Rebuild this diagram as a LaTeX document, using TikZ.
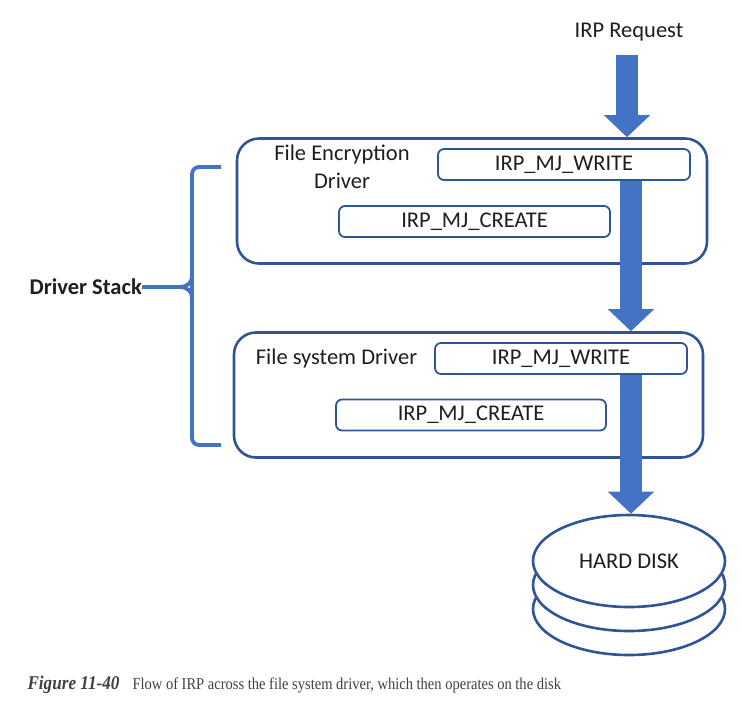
\documentclass[tikz,border=0pt]{standalone}
\usepackage{fontspec}
\setmainfont{Carlito}
\newfontfamily\capfont[FakeStretch=0.88]{Liberation Serif}
\usetikzlibrary{arrows.meta,shapes.geometric}
\definecolor{boxblue}{RGB}{47,85,151}
\definecolor{flowblue}{RGB}{68,114,196}
\definecolor{ink}{RGB}{30,30,30}
\begin{document}
\begin{tikzpicture}[x=1pt, y=-1pt, every node/.style={font=\fontsize{22.5}{28}\selectfont, text=ink},
layer/.style={draw=boxblue, line width=2.6pt, rounded corners=22pt, minimum width=#1, minimum height=125pt, inner sep=0pt},
irp/.style={draw=boxblue, line width=1.8pt, rounded corners=6pt, minimum width=#1, minimum height=31pt, inner sep=0pt},
platter/.style={ellipse, draw=boxblue, fill=white, line width=2.6pt, minimum width=192pt, minimum height=92pt, inner sep=0pt},
flow/.style={draw=flowblue, line width=22pt, -{Triangle[width=45pt, length=22pt, fill=flowblue]}},
brace/.style={draw=flowblue, line width=3.8pt, rounded corners=7pt},
caption/.style={anchor=base west, text=ink!85}]
\useasboundingbox (0,0) rectangle (741,704);
\node[] (req) at (629,32) {IRP Request};
\node[layer=470pt] (enc) at (472,201) {}; \node[layer=469pt] (fs) at (468.5,395) {};
\node[align=center] (enclbl) at (342,167) {File Encryption\\Driver}; \node[] (fslbl) at (336.5,358) {File system Driver};
\node[irp=252pt] (wr1) at (564,164.5) {IRP\_MJ\_WRITE}; \node[irp=271pt] (cr1) at (474.5,221.5) {IRP\_MJ\_CREATE};
\node[irp=252pt] (wr2) at (561,358.5) {IRP\_MJ\_WRITE}; \node[irp=270pt] (cr2) at (471,415) {IRP\_MJ\_CREATE};
\node[platter] (d3) at (629,609) {}; \node[platter] (d2) at (629,585) {}; \node[platter] (disk) at (629,561) {HARD DISK};
\coordinate (top) at (627,55);
\draw[flow] (top) -- (top |- enc.north);
\draw[flow] (wr1.south -| 631,0) -- (fs.north -| 631,0);
\draw[flow] (wr2.south -| 631,0) -- (disk.north -| 631,0);
\node[anchor=east, inner sep=0pt, font=\bfseries\fontsize{22.5}{28}\selectfont] (stack) at (142,287) {Driver Stack};
\draw[brace] (221,167) -- (192,167) -- (192,445) -- (221,445);
\draw[brace, rounded corners=0pt] (stack.east) -- (180,287) to[out=0, in=-90] (192,277);
\draw[brace, rounded corners=0pt] (180,287) to[out=0, in=90] (192,297);
\node[caption, font=\capfont\fontsize{19.5}{22}\selectfont\bfseries\itshape] (fig) at (24,689) {Figure 11-40};
\node[caption, font=\capfont\fontsize{16.5}{20}\selectfont] (cap) at (129,689) {Flow of IRP across the file system driver, which then operates on the disk};
\end{tikzpicture}
\end{document}
